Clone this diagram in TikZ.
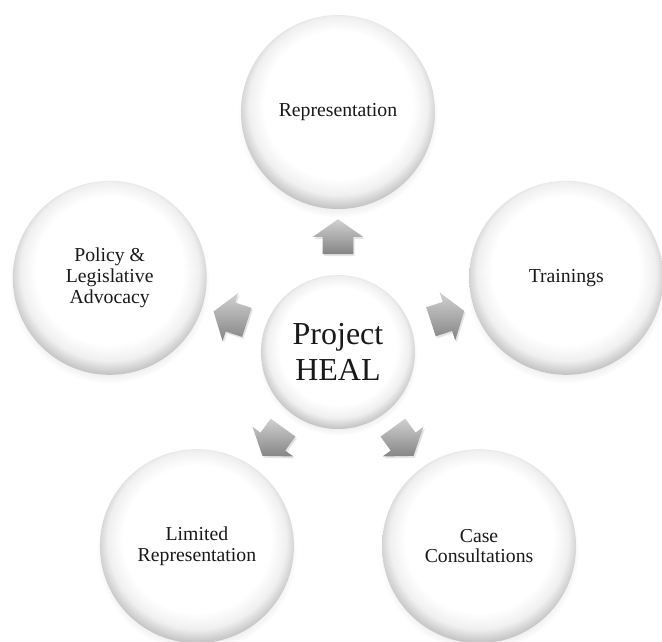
\documentclass[tikz,border=0pt]{standalone}
\usepackage{fontspec}
\setmainfont{Liberation Serif}
\usetikzlibrary{shapes,arrows,positioning,shadows,calc}

% soft button look: white face, grey rim that is heavier at the bottom
\pgfdeclareradialshading{button}{\pgfpoint{0bp}{3bp}}{color(0bp)=(white); color(19bp)=(white); color(23bp)=(black!6); color(26bp)=(black!22); color(28bp)=(black!32); color(50bp)=(black!32)}

\begin{document}
\begin{tikzpicture}[
    x=0.75pt, y=0.75pt,
    hub/.style={circle, shading=button, minimum size=115.5pt, inner sep=0pt, align=center, text=black!90, font=\fontsize{24}{27}\selectfont, circular drop shadow={shadow xshift=0pt, shadow yshift=-3pt, shadow scale=1.03, opacity=0.2}},
    service/.style={circle, shading=button, minimum size=145.5pt, inner sep=0pt, align=center, text=black!90, font=\fontsize{14.8}{15.5}\selectfont, circular drop shadow={shadow xshift=0pt, shadow yshift=-4pt, shadow scale=1.03, opacity=0.2}},
    pointer/.style={single arrow, inner sep=0pt, inner ysep=11.25pt, minimum height=26.25pt, single arrow head extend=7.5pt, single arrow tip angle=110, top color=black!18, bottom color=black!48, drop shadow={shadow xshift=1pt, shadow yshift=-1.5pt, opacity=0.2}}
]

\useasboundingbox[fill=white] (-338,-290) rectangle (324,352);

% Centre
\node[hub] (heal) at (0,0) {Project\\HEAL};

% Services around it
\node[service] (rep) at (90:240) {Representation};
\node[service] (train) at (18:240) {Trainings};
\node[service] (cases) at (-54:240) {Case\\Consultations};
\node[service] (limited) at (-126:240) {Limited\\Representation};
\node[service] (policy) at (162:240) {Policy \&\\Legislative\\Advocacy};

% Block arrows
\node[pointer, rotate=90] (toRep) at ($(heal)!0.458!(rep)$) {};
\node[pointer, rotate=18] (toTrain) at ($(heal)!0.458!(train)$) {};
\node[pointer, rotate=-54] (toCases) at ($(heal)!0.44!(cases)$) {};
\node[pointer, rotate=-126] (toLimited) at ($(heal)!0.44!(limited)$) {};
\node[pointer, rotate=162] (toPolicy) at ($(heal)!0.45!(policy)$) {};

\end{tikzpicture}
\end{document}
